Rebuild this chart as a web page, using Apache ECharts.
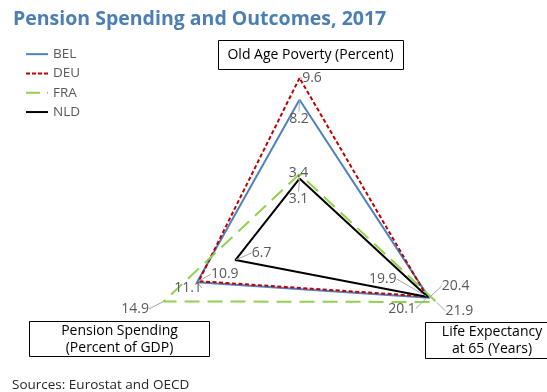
<!DOCTYPE html>
<html>
<head>
<meta charset="utf-8">
<script src="https://cdn.jsdelivr.net/npm/echarts@6/dist/echarts.min.js"></script>
<style>
  html, body { margin: 0; padding: 0; background: #fff; }
  #chart { width: 547px; height: 392px; }
</style>
</head>
<body>
<div id="chart"></div>
<script>
// Radar axes (top, lower-left, lower-right)
const indicators = ['Old Age Poverty (Percent)', 'Pension Spending\n(Percent of GDP)', 'Life Expectancy\nat 65 (Years)'];
const countries = ['BEL', 'DEU', 'FRA', 'NLD'];

// Values per country: [old age poverty, pension spending, life expectancy at 65]
const BEL = [8.2, 11.1, 20.4];
const DEU = [9.6, 10.9, 19.9];
const FRA = [3.4, 14.9, 21.9];
const NLD = [3.1, 6.7, 20.1];

const titleText = 'Pension Spending and Outcomes, 2017';
const sourceText = 'Sources: Eurostat and OECD';

const values = { BEL, DEU, FRA, NLD };
const FONT = '"Open Sans", "Noto Sans", sans-serif';
const LABEL_GREY = '#595959';

const lineStyles = {
  BEL: { color: '#4f81bd', width: 2, type: 'solid' },
  DEU: { color: '#c00000', width: 2, type: [4, 2.5] },
  FRA: { color: '#92d050', width: 2, type: [15, 8] },
  NLD: { color: '#000000', width: 2, type: 'solid' }
};

const legendIcons = {
  BEL: 'rect',
  DEU: 'path://M0,0h4v2h-4zM6,0h4v2h-4zM12,0h4v2h-4zM18,0h4v2h-4z',
  FRA: 'path://M0,0h14v2h-14zM21,0h1v2h-1z',
  NLD: 'rect'
};

// Where each value label sits relative to its vertex [poverty, pension, life]
const labelOffsets = {
  BEL: [[-0.5, 19], [-9, 6], [26.5, -12]],
  DEU: [[12.5, 0], [26, -7], [-44, -17.5]],
  FRA: [[-1, -1], [-28.7, 7.6], [23, 9]],
  NLD: [[-1, 20], [26, -7], [-25.7, 11.5]]
};

const lineItems = countries.map(c => ({
  name: c,
  value: values[c],
  symbol: 'none',
  lineStyle: lineStyles[c],
  itemStyle: { color: lineStyles[c].color }
}));

// One transparent copy per label so each vertex gets its own placement
const labelItems = [];
const labelKeys = [];
countries.forEach(c => {
  indicators.forEach((_, d) => {
    const target = values[c][d];
    labelKeys.push([c, d]);
    labelItems.push({
      name: c + ' ' + d,
      value: values[c],
      symbol: 'circle',
      symbolSize: 1,
      itemStyle: { color: 'rgba(0,0,0,0)' },
      lineStyle: { opacity: 0, width: 0 },
      label: {
        show: true,
        position: 'inside',
        color: LABEL_GREY,
        fontFamily: FONT,
        fontSize: 14,
        formatter: p => (p.value === target ? target.toFixed(1) : '')
      }
    });
  });
});

const chart = echarts.init(document.getElementById('chart'), null, { renderer: 'canvas' });

chart.setOption({
  animation: false,
  backgroundColor: '#fff',
  title: {
    text: titleText,
    left: 8,
    top: 4,
    textStyle: { color: '#4a7eb4', fontSize: 19.5, fontWeight: 'bold', fontFamily: FONT }
  },
  legend: {
    orient: 'vertical',
    left: 21,
    top: 42,
    itemWidth: 22,
    itemHeight: 2,
    itemGap: 5,
    itemStyle: { borderWidth: 0 },
    textStyle: { color: LABEL_GREY, fontSize: 13.5, fontFamily: FONT, lineHeight: 14.3 },
    data: countries.map(c => ({ name: c, icon: legendIcons[c] }))
  },
  radar: {
    center: [299.5, 223],
    radius: 160,
    startAngle: 90,
    shape: 'polygon',
    splitNumber: 4,
    indicator: [
      { name: indicators[0], min: 0.23, max: 10.57 },
      { name: indicators[1], min: -0.6, max: 15.22 },
      { name: indicators[2], min: -6.5, max: 22.25 }
    ],
    axisName: { show: false },
    axisLine: { show: false },
    axisTick: { show: false },
    axisLabel: { show: false },
    splitLine: { show: false },
    splitArea: { show: false }
  },
  series: [
    {
      type: 'radar',
      z: 2,
      data: lineItems
    },
    {
      type: 'radar',
      z: 3,
      silent: true,
      labelLayout: p => {
        if (!p.text) return {};
        const k = labelKeys[p.dataIndex];
        const off = labelOffsets[k[0]][k[1]];
        return { dx: off[0], dy: off[1] };
      },
      labelLine: { show: true, lineStyle: { color: '#a6a6a6', width: 1 } },
      data: labelItems
    }
  ],
  graphic: [
    { type: 'rect', z: 10, shape: { x: 218.5, y: 40.5, width: 185, height: 29 },
      style: { fill: '#fff', stroke: '#000', lineWidth: 1 } },
    { type: 'text', z: 11, x: 310.5, y: 55,
      style: { text: indicators[0], font: '14px ' + FONT, fill: '#000', align: 'center', verticalAlign: 'middle' } },
    { type: 'rect', z: 10, shape: { x: 29.5, y: 321.5, width: 180, height: 35 },
      style: { fill: '#fff', stroke: '#000', lineWidth: 1 } },
    { type: 'text', z: 11, x: 119.5, y: 339.5,
      style: { text: indicators[1], font: '14px ' + FONT, lineHeight: 17, fill: '#000', align: 'center', verticalAlign: 'middle' } },
    { type: 'rect', z: 10, shape: { x: 425.5, y: 322.5, width: 140, height: 36 },
      style: { fill: '#fff', stroke: '#000', lineWidth: 1 } },
    { type: 'text', z: 11, x: 492, y: 340.5,
      style: { text: indicators[2], font: '14px ' + FONT, lineHeight: 17, fill: '#000', align: 'center', verticalAlign: 'middle' } },
    { type: 'text', z: 11, x: 12, y: 385,
      style: { text: sourceText, font: '13.5px ' + FONT, fill: '#262626', align: 'left', verticalAlign: 'middle' } }
  ]
});
</script>
</body>
</html>
